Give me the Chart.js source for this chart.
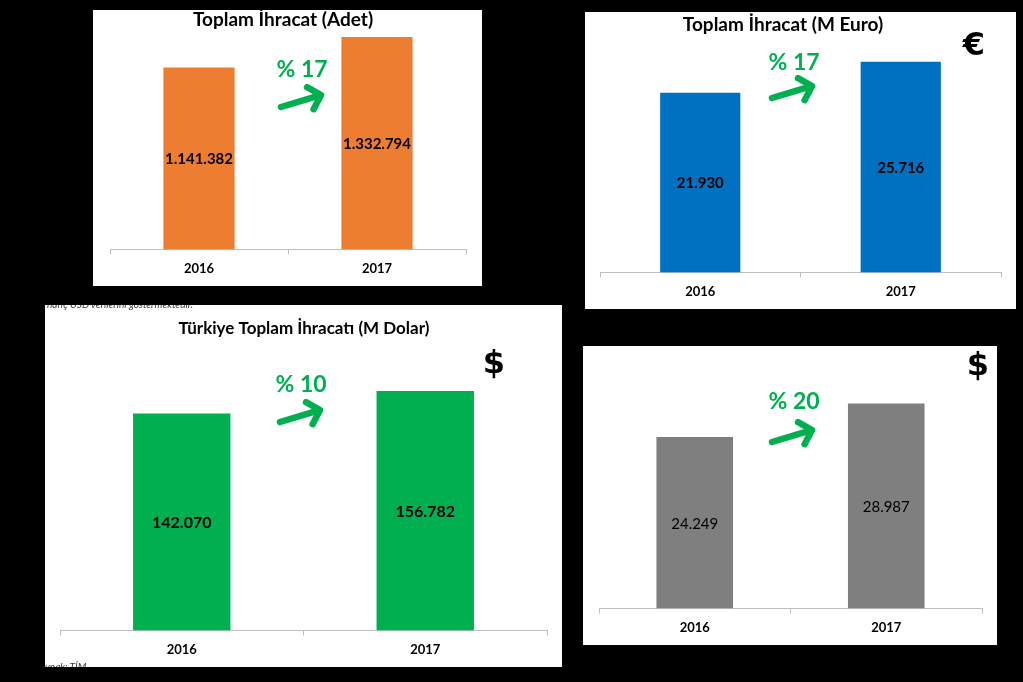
<!DOCTYPE html>
<html><head><meta charset="utf-8">
<script src="https://cdn.jsdelivr.net/npm/chart.js@4.4.1/dist/chart.umd.min.js"></script>
<style>
html,body{margin:0;padding:0;background:#000;width:1023px;height:682px;overflow:hidden;font-family:Lato,sans-serif}
.panel{position:absolute;background:#fff;overflow:hidden}
.panel canvas{position:absolute;left:0;top:0}
.note{position:absolute;font-family:Lato,sans-serif;font-style:italic;font-size:10px;line-height:12px;color:#3a3a3a;white-space:nowrap}
</style></head><body>
<div class="panel" id="p1" style="left:93px;top:10px;width:389px;height:276px"><canvas id="c1" width="389" height="276"></canvas></div>
<div class="panel" id="p2" style="left:585px;top:12px;width:431px;height:297px"><canvas id="c2" width="431" height="297"></canvas></div>
<div class="panel" id="p3" style="left:45px;top:305px;width:517px;height:362px"><canvas id="c3" width="517" height="362"></canvas>
  <div class="note" style="left:2px;top:-7px">hariç USD verilerini göstermektedir.</div>
  <div class="note" style="left:-11px;top:355px">Kaynak: TİM</div>
</div>
<div class="panel" id="p4" style="left:583px;top:346px;width:414px;height:299px"><canvas id="c4" width="414" height="299"></canvas></div>
<script>
// ---- data ----
const years = ['2016', '2017'];
const adetValues = [1141382, 1332794];
const euroValues = [21930, 25716];
const dolarValues = [142070, 156782];
const greyValues = [24249, 28987];
const growthLabels = ['% 17', '% 17', '% 10', '% 20'];
const chartTitles = ['Toplam İhracat (Adet)', 'Toplam İhracat (M Euro)', 'Türkiye Toplam İhracatı (M Dolar)', ''];
const currencySymbols = ['', '€', '$', '$'];

function fmt(v){ return String(v).replace(/\B(?=(\d{3})+(?!\d))/g, '.'); }

const decor = {
  id: 'decor',
  afterDatasetsDraw(chart, args, o){
    const ctx = chart.ctx;
    ctx.save();
    ctx.textAlign = 'center'; ctx.textBaseline = 'middle';
    // value labels inside bars
    const meta = chart.getDatasetMeta(0);
    ctx.fillStyle = '#000';
    ctx.font = `${o.valueWeight} ${o.valueSize}px Lato`;
    meta.data.forEach((bar, i) => {
      ctx.fillText(fmt(chart.data.datasets[0].data[i]), bar.x, (bar.y + bar.base) / 2 + 1);
    });
    // title
    if (o.title) {
      ctx.font = `bold ${o.titleSize}px Lato`;
      ctx.fillText(o.title, o.titleX, o.titleY);
    }
    // growth text
    ctx.fillStyle = '#00B050';
    ctx.font = 'bold 23px Lato';
    ctx.fillText(o.growth, o.gx, o.gy);
    // arrow
    const [x1, y1, x2, y2] = o.arrow;
    const ang = Math.atan2(y2 - y1, x2 - x1);
    ctx.strokeStyle = '#00B050'; ctx.lineWidth = 6.5; ctx.lineCap = 'round'; ctx.lineJoin = 'round';
    ctx.beginPath(); ctx.moveTo(x1, y1); ctx.lineTo(x2 - 3*Math.cos(ang), y2 - 3*Math.sin(ang)); ctx.stroke();
    ctx.beginPath();
    const hl = 16;
    ctx.moveTo(x2 - hl*Math.cos(ang - 0.8), y2 - hl*Math.sin(ang - 0.8));
    ctx.lineTo(x2, y2);
    ctx.lineTo(x2 - hl*Math.cos(ang + 0.8), y2 - hl*Math.sin(ang + 0.8));
    ctx.stroke();
    // currency symbol
    if (o.currency) {
      ctx.fillStyle = '#000';
      ctx.font = `bold ${o.curSize}px 'DejaVu Sans'`;
      ctx.fillText(o.currency, o.cx, o.cy);
    }
    ctx.restore();
  }
};

function makeChart(id, values, color, yMax, pad, valueCfg, tickSize, d){
  new Chart(document.getElementById(id), {
    type: 'bar',
    data: { labels: years, datasets: [{ data: values, backgroundColor: color, barPercentage: 0.4, categoryPercentage: 1.0 }] },
    options: {
      responsive: false, animation: false, devicePixelRatio: 1,
      layout: { padding: pad },
      plugins: { legend: { display: false }, tooltip: { enabled: false }, title: { display: false },
        decor: Object.assign({ valueWeight: valueCfg[0], valueSize: valueCfg[1] }, d) },
      scales: {
        x: {
          grid: { display: true, drawOnChartArea: false, offset: true, tickLength: 5, color: '#bfbfbf', lineWidth: 1 },
          border: { display: true, color: '#bfbfbf', width: 1 },
          ticks: { color: '#000', padding: 7, font: { family: 'Lato', size: tickSize, weight: 'bold' } }
        },
        y: { display: false, min: 0, max: yMax }
      }
    },
    plugins: [decor]
  });
}

makeChart('c1', adetValues, '#ED7D31', 1345000, {left:17, right:16, top:25, bottom:2}, ['bold', 15], 13,
  { title: chartTitles[0], titleSize: 19, titleX: 190, titleY: 10, growth: growthLabels[0], gx: 209, gy: 60,
    arrow: [188, 97, 228, 85], currency: currencySymbols[0] });
makeChart('c2', euroValues, '#0070C0', 26900, {left:15, right:15, top:40, bottom:2}, ['bold', 15], 13,
  { title: chartTitles[1], titleSize: 19, titleX: 198, titleY: 13, growth: growthLabels[1], gx: 209, gy: 51,
    arrow: [187, 86, 227, 74], currency: currencySymbols[1], curSize: 32, cx: 389, cy: 35 });
makeChart('c3', dolarValues, '#00B050', 187000, {left:15, right:15, top:40, bottom:2}, ['bold', 16], 13,
  { title: chartTitles[2], titleSize: 17, titleX: 259, titleY: 24, growth: growthLabels[2], gx: 256, gy: 80,
    arrow: [235, 117, 275, 105], currency: currencySymbols[2], curSize: 32, cx: 449, cy: 60 });
makeChart('c4', greyValues, '#7F7F7F', 34300, {left:16, right:15, top:20, bottom:2}, ['normal', 15], 13,
  { title: chartTitles[3], growth: growthLabels[3], gx: 211, gy: 56,
    arrow: [189, 96, 229, 84], currency: currencySymbols[3], curSize: 32, cx: 395, cy: 21 });
</script>
</body></html>
